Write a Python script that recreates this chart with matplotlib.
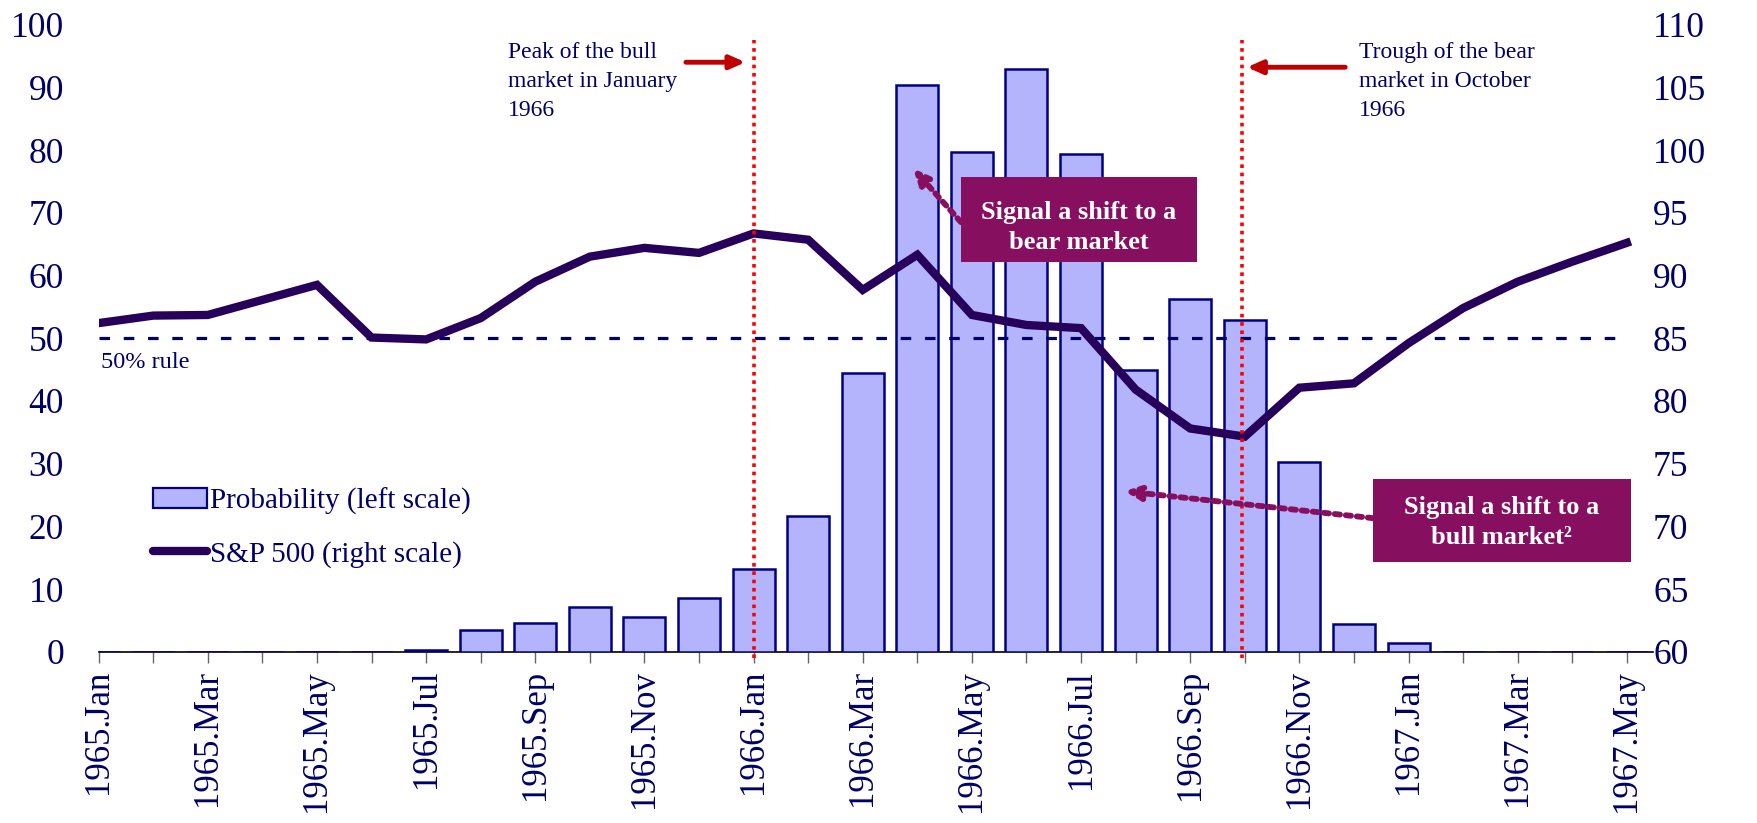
import matplotlib
matplotlib.use("Agg")
import matplotlib.pyplot as plt
from matplotlib.patches import Rectangle, Patch
from matplotlib.lines import Line2D

plt.rcParams['font.family'] = ['Liberation Serif', 'DejaVu Serif']

# monthly data, 1965.Jan - 1967.May
months = ['1965.Jan', '1965.Feb', '1965.Mar', '1965.Apr', '1965.May', '1965.Jun',
          '1965.Jul', '1965.Aug', '1965.Sep', '1965.Oct', '1965.Nov', '1965.Dec',
          '1966.Jan', '1966.Feb', '1966.Mar', '1966.Apr', '1966.May', '1966.Jun',
          '1966.Jul', '1966.Aug', '1966.Sep', '1966.Oct', '1966.Nov', '1966.Dec',
          '1967.Jan', '1967.Feb', '1967.Mar', '1967.Apr', '1967.May']
probability = [0, 0, 0, 0, 0, 0, 0.3, 3.4, 4.6, 7.2, 5.5, 8.5,
               13.2, 21.6, 44.5, 90.3, 79.7, 92.9, 79.3, 44.9, 56.3, 52.9,
               30.3, 4.5, 1.4, 0, 0, 0, 0]
sp500 = [86.2, 86.8, 86.85, 88.05, 89.25, 85.05, 84.9, 86.6, 89.5, 91.5,
         92.2, 91.8, 93.35, 92.85, 88.85, 91.65, 86.85, 86.05, 85.8, 80.9,
         77.8, 77.15, 81.05, 81.4, 84.6, 87.4, 89.5, 91.1, 92.6]

navy = '#000066'
purple = '#86105F'
x = list(range(len(months)))

fig = plt.figure(figsize=(17.58, 8.23), dpi=100)
ax = fig.add_axes([0.0561, 0.2081, 0.8842, 0.762])
ax2 = ax.twinx()

ax.bar(x, probability, width=0.77, color='#B4B4FC', edgecolor='#000080',
       linewidth=1.8, zorder=3)
ax.set_xlim(0, 28.48)
ax.set_ylim(0, 100)
ax.set_yticks(range(0, 101, 10))
ax2.set_ylim(60, 110)
ax2.set_yticks(range(60, 111, 5))

# 50% rule, S&P line, market turning points
ax2.plot([0, 28], [85, 85], color=navy, lw=2.3, linestyle=(0, (3.3, 4.3)), zorder=2)
ax2.plot(x, sp500, color='#26005A', lw=6, solid_joinstyle='miter', zorder=3)
for xv in [12, 20.94]:
    ax2.axvline(xv, ymin=-0.01, ymax=0.976, color='red', lw=2.6,
                linestyle=(0, (1, 1.3)), clip_on=False, zorder=4)

ax.text(0.05, 46.2, '50% rule', color=navy, fontsize=17.5, va='center', ha='left')

for a in (ax, ax2):
    for s in a.spines.values():
        s.set_visible(False)
ax.spines['bottom'].set_visible(True)
ax.spines['bottom'].set_color('black')
ax.spines['bottom'].set_linewidth(1.2)

ax.set_xticks(x)
ax.set_xticklabels([m if i % 2 == 0 else '' for i, m in enumerate(months)],
                   rotation=90, fontsize=25, color=navy)
ax.tick_params(axis='x', length=8, width=1, color='#666666', pad=5)
ax.tick_params(axis='y', length=0, pad=25, labelsize=25.5, labelcolor=navy)
ax2.tick_params(axis='y', length=0, pad=0, labelsize=25.5, labelcolor=navy)

red_arrow = dict(arrowstyle='-|>,head_length=0.9,head_width=0.4',
                 color='#C00000', lw=3.5, shrinkA=0, shrinkB=0)
ax2.text(7.5, 97.3, 'Peak of the bull\nmarket in January\n1966', transform=ax.transData,
         fontsize=17, color=navy, va='top', ha='left', linespacing=1.5)
ax2.annotate('', xy=(11.85, 94.0), xytext=(10.76, 94.0), xycoords=ax.transData,
             textcoords=ax.transData, arrowprops=red_arrow)
ax2.text(23.09, 97.3, 'Trough of the bear\nmarket in October\n1966', transform=ax.transData,
         fontsize=17, color=navy, va='top', ha='left', linespacing=1.5)
ax2.annotate('', xy=(21.04, 93.2), xytext=(22.84, 93.2), xycoords=ax.transData,
             textcoords=ax.transData, arrowprops=red_arrow)

purple_arrow = dict(arrowstyle='-|>,head_length=0.9,head_width=0.4',
                    color=purple, lw=4.2, linestyle=(0, (0.9, 1.0)),
                    shrinkA=0, shrinkB=0)
ax2.add_patch(Rectangle((15.8, 62.2), 4.32, 13.5, transform=ax.transData,
                        facecolor=purple, edgecolor='none', zorder=5))
ax2.text(17.96, 67.6, 'Signal a shift to a\nbear market', transform=ax.transData,
         fontsize=19, fontweight='bold', color='white', ha='center', va='center',
         linespacing=1.4, zorder=6)
ax2.annotate('', xy=(14.92, 77.1), xytext=(15.8, 68.5), xycoords=ax.transData,
             textcoords=ax.transData, zorder=5, arrowprops=purple_arrow)

ax2.add_patch(Rectangle((23.35, 14.3), 4.72, 13.2, transform=ax.transData,
                        facecolor=purple, edgecolor='none', zorder=5))
ax2.text(25.71, 20.6, 'Signal a shift to a\nbull market\u00b2', transform=ax.transData,
         fontsize=19, fontweight='bold', color='white', ha='center', va='center',
         linespacing=1.4, zorder=6)
ax2.annotate('', xy=(18.79, 25.6), xytext=(23.35, 21.3), xycoords=ax.transData,
             textcoords=ax.transData, zorder=5, arrowprops=purple_arrow)

handles = [Patch(facecolor='#B4B4FC', edgecolor='#000080', linewidth=1.6),
           Line2D([], [], color='#26005A', lw=6, solid_capstyle='round')]
leg = ax2.legend(handles, ['Probability (left scale)', 'S&P 500 (right scale)'],
                 loc='upper left', bbox_to_anchor=(0.0353, 0.262), frameon=False,
                 fontsize=21, borderpad=0, borderaxespad=0, handlelength=1.85,
                 handletextpad=0.1, labelspacing=0.9)
for t in leg.get_texts():
    t.set_color(navy)

fig.savefig('out.png', dpi=100)
